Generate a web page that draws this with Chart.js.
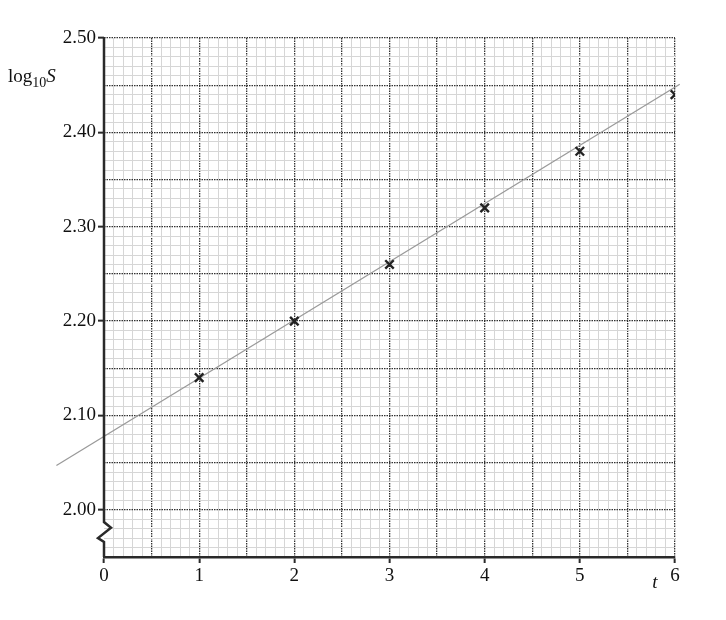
<!DOCTYPE html>
<html>
<head>
<meta charset="utf-8">
<script src="https://cdn.jsdelivr.net/npm/chart.js@4"></script>
<style>
  html, body { margin: 0; padding: 0; background: #fff; }
  canvas { display: block; }
</style>
</head>
<body>
<canvas id="graph" width="726" height="620"></canvas>
<script>
/* ============================================================
   DATI — valori
============================================================ */
const tValues = [1, 2, 3, 4, 5, 6];
const logSValues = [2.14, 2.20, 2.26, 2.32, 2.38, 2.44];

// retta di regressione disegnata a mano (estremi della linea)
const fitT = [-0.5, 6.05];
const fitLogS = [2.047, 2.451];

const xRange = [0, 6];
const yRange = [1.95, 2.50];

const FONT = "'Liberation Serif', 'DejaVu Serif', serif";
const INK = "#2a2a2a";

/* ============================================================
   Griglia: minore ogni 0.1 / 0.01, maggiore ogni 0.5 / 0.05
============================================================ */
const isMajorX = v => Math.round(v * 10) % 5 === 0;
const isMajorY = v => Math.round(v * 100) % 5 === 0;
const isLabelX = v => Math.abs(v - Math.round(v)) < 1e-6;
const isLabelY = v => Math.round(v * 100) % 10 === 0 && v > 1.99;

// asse verticale con simbolo di interruzione + etichette degli assi
const axisPlugin = {
    id: "axisBreak",
    afterDatasetsDraw(chart) {
        const { ctx, scales: { x, y } } = chart;
        const x0 = x.getPixelForValue(0);
        ctx.save();
        ctx.strokeStyle = INK;
        ctx.lineWidth = 2.5;
        ctx.beginPath();
        ctx.moveTo(x0, y.getPixelForValue(2.50) - 1);
        ctx.lineTo(x0, y.getPixelForValue(1.987));
        ctx.lineTo(x0 + 7, y.getPixelForValue(1.981));
        ctx.lineTo(x0 - 6, y.getPixelForValue(1.970));
        ctx.lineTo(x0, y.getPixelForValue(1.966));
        ctx.lineTo(x0, y.getPixelForValue(1.95));
        ctx.stroke();

        ctx.fillStyle = "#111";
        ctx.textBaseline = "alphabetic";
        ctx.font = "19px " + FONT;
        const bx = 8, by = 82;
        ctx.fillText("log", bx, by);
        let w = ctx.measureText("log").width;
        ctx.font = "14px " + FONT;
        ctx.fillText("10", bx + w, by + 5);
        w += ctx.measureText("10").width;
        ctx.font = "italic 19px " + FONT;
        ctx.fillText("S", bx + w, by);
        ctx.fillText("t", x.getPixelForValue(5.76), 588);
        ctx.restore();
    }
};

new Chart(document.getElementById("graph"), {
    type: "scatter",
    data: {
        datasets: [
            {
                label: "fit",
                type: "line",
                data: fitT.map((t, i) => ({ x: t, y: fitLogS[i] })),
                borderColor: "#9a9a9a",
                borderWidth: 1.3,
                pointRadius: 0,
                showLine: true,
                clip: false,
                order: 2
            },
            {
                label: "log10 S",
                data: tValues.map((t, i) => ({ x: t, y: logSValues[i] })),
                pointStyle: "crossRot",
                pointRadius: 6,
                borderColor: "#222",
                borderWidth: 2.4,
                order: 1
            }
        ]
    },
    options: {
        responsive: false,
        animation: false,
        events: [],
        layout: { padding: { top: 38, right: 51, left: 0, bottom: 0 } },
        plugins: { legend: { display: false }, tooltip: { enabled: false } },
        scales: {
            x: {
                type: "linear",
                min: xRange[0],
                max: xRange[1],
                afterFit(s) { s.height = 63; },
                border: {
                    display: true, color: INK, width: 2.5,
                    dash: ctx => (ctx.tick && isMajorX(ctx.tick.value) ? [1.5, 1] : [])
                },
                grid: {
                    color: ctx => {
                        const v = ctx.tick.value;
                        if (Math.abs(v) < 1e-6) return "rgba(0,0,0,0)";
                        return isMajorX(v) ? "#333" : "#d6d6d6";
                    },
                    lineWidth: ctx => (isMajorX(ctx.tick.value) ? 1.3 : 1),
                    tickLength: 6,
                    tickWidth: 2,
                    tickColor: ctx => (isLabelX(ctx.tick.value) ? INK : "rgba(0,0,0,0)")
                },
                ticks: {
                    stepSize: 0.1,
                    autoSkip: false,
                    maxRotation: 0,
                    padding: 2,
                    color: "#111",
                    font: { family: FONT, size: 19 },
                    callback: v => (isLabelX(v) ? String(Math.round(v)) : "")
                }
            },
            y: {
                type: "linear",
                min: yRange[0],
                max: yRange[1],
                afterFit(s) { s.width = 104; },
                border: {
                    display: false,
                    dash: ctx => (ctx.tick && isMajorY(ctx.tick.value) ? [1.5, 1] : [])
                },
                grid: {
                    color: ctx => (isMajorY(ctx.tick.value) ? "#333" : "#d6d6d6"),
                    lineWidth: ctx => (isMajorY(ctx.tick.value) ? 1.3 : 1),
                    tickLength: 6,
                    tickWidth: 2,
                    tickColor: ctx => (isLabelY(ctx.tick.value) ? INK : "rgba(0,0,0,0)")
                },
                ticks: {
                    stepSize: 0.01,
                    autoSkip: false,
                    padding: 2,
                    color: "#111",
                    font: { family: FONT, size: 19 },
                    callback: v => (isLabelY(v) ? v.toFixed(2) : "")
                }
            }
        }
    },
    plugins: [axisPlugin]
});
</script>
</body>
</html>
